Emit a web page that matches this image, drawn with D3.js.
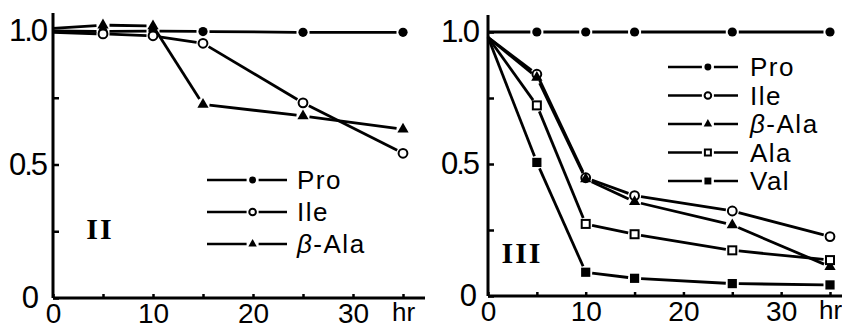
<!DOCTYPE html>
<html>
<head>
<meta charset="utf-8">
<script src="https://cdn.jsdelivr.net/npm/d3@7"></script>
<style>
body { margin: 0; background: #fff; }
svg { display: block; }
.tick text { font-family: "Liberation Sans", Arial, sans-serif; fill: #000; }
.legend text { font-family: "Liberation Sans", Arial, sans-serif; font-size: 26px; letter-spacing: 1.5px; }
.panel-name { font-family: "Liberation Serif", "Times New Roman", serif; font-weight: bold; font-size: 30px; letter-spacing: 2px; }
</style>
</head>
<body>
<svg id="chart" width="842" height="329"></svg>
<script>
// sampling times (hr)
const hours = [0, 5, 10, 15, 25, 35];
const xTicks = [0, 5, 10, 15, 20, 25, 30, 35];
const xTickLabels = { 0: "0", 10: "10", 20: "20", 30: "30", 35: "hr" };
const yTicks = [0, 0.25, 0.5, 0.75, 1];
const yTickLabels = { 0: "0", 0.5: "0.5", 1: "1.0" };

// panel II
const proII = [1.0, 0.998, 1.0, 0.998, 0.995, 0.995];
const ileII = [0.995, 0.989, 0.982, 0.954, 0.731, 0.542];
const betaAlaII = [1.01, 1.022, 1.019, 0.725, 0.682, 0.632];

// panel III
const proIII = [1.0, 1.0, 1.0, 1.0, 1.0, 1.0];
const ileIII = [0.98, 0.84, 0.448, 0.38, 0.322, 0.225];
const betaAlaIII = [0.98, 0.828, 0.443, 0.357, 0.269, 0.111];
const alaIII = [0.98, 0.722, 0.273, 0.234, 0.173, 0.136];
const valIII = [0.98, 0.506, 0.09, 0.067, 0.047, 0.042];

const panels = [
    {
        name: "II", left: 53, right: 403, bottom: 298, top: 31, xEnd: 425, yTop: 13,
        pad: 7, zeroPad: 16,
        series: [
            { label: "Pro", values: proII, mark: "dot" },
            { label: "Ile", values: ileII, mark: "ring" },
            { label: "β-Ala", values: betaAlaII, mark: "tri" }
        ],
        legend: { x: 207, y: 180, step: 32, len: 80, text: 297 },
        tag: { x: 100, y: 239 }
    },
    {
        name: "III", left: 488, right: 830, bottom: 296, top: 32, xEnd: 842, yTop: 15,
        pad: 10, zeroPad: 13,
        series: [
            { label: "Pro", values: proIII, mark: "dot" },
            { label: "Ile", values: ileIII, mark: "ring" },
            { label: "β-Ala", values: betaAlaIII, mark: "tri" },
            { label: "Ala", values: alaIII, mark: "box" },
            { label: "Val", values: valIII, mark: "square" }
        ],
        legend: { x: 668, y: 67, step: 28.5, len: 70, text: 750 },
        tag: { x: 522, y: 263 }
    }
];

const svg = d3.select("#chart");

function drawMark(g, type, x, y, s) {
    if (type === "dot") {
        g.append("circle").attr("cx", x).attr("cy", y).attr("r", 4.6 * s).attr("fill", "#000");
    } else if (type === "ring") {
        g.append("circle").attr("cx", x).attr("cy", y).attr("r", 4.4 * s)
            .attr("fill", "#fff").attr("stroke", "#000").attr("stroke-width", 2);
    } else if (type === "tri") {
        g.append("path").attr("transform", "translate(" + x + "," + y + ")")
            .attr("d", d3.symbol(d3.symbolTriangle, 55 * s * s)()).attr("fill", "#000");
    } else if (type === "box") {
        const h = 4 * s;
        g.append("rect").attr("x", x - h).attr("y", y - h).attr("width", 2 * h).attr("height", 2 * h)
            .attr("fill", "#fff").attr("stroke", "#000").attr("stroke-width", 2);
    } else if (type === "square") {
        const h = 4.6 * s;
        g.append("rect").attr("x", x - h).attr("y", y - h).attr("width", 2 * h).attr("height", 2 * h)
            .attr("fill", "#000");
    }
}

panels.forEach(p => {
    const x = d3.scaleLinear().domain([0, 35]).range([p.left, p.right]);
    const y = d3.scaleLinear().domain([0, 1]).range([p.bottom, p.top]);
    const g = svg.append("g");

    const xAxis = d3.axisBottom(x)
        .tickValues(xTicks)
        .tickSizeInner(-4).tickSizeOuter(0).tickPadding(5)
        .tickFormat(d => xTickLabels[d] || "");
    const gx = g.append("g").attr("transform", "translate(0," + p.bottom + ")").call(xAxis);
    gx.select(".domain").remove();
    gx.selectAll(".tick line").attr("stroke-width", 2.5);
    gx.selectAll(".tick text").style("font-size", d => d === 35 ? "26px" : "28px");

    const yAxis = d3.axisLeft(y)
        .tickValues(yTicks)
        .tickSizeInner(-6).tickSizeOuter(0).tickPadding(p.pad)
        .tickFormat(d => yTickLabels[d] || "");
    const gy = g.append("g").attr("transform", "translate(" + p.left + ",0)").call(yAxis);
    gy.select(".domain").remove();
    gy.selectAll(".tick line").attr("stroke-width", 2.5);
    gy.selectAll(".tick text")
        .style("font-size", "31px").style("letter-spacing", "-2px")
        .attr("x", d => d === 0 ? -p.zeroPad : -p.pad);

    // axis lines
    g.append("line").attr("x1", p.left).attr("x2", p.xEnd).attr("y1", p.bottom).attr("y2", p.bottom)
        .attr("stroke", "#000").attr("stroke-width", 3);
    g.append("line").attr("x1", p.left).attr("x2", p.left).attr("y1", p.bottom).attr("y2", p.yTop)
        .attr("stroke", "#000").attr("stroke-width", 3);

    // series: segments stop short of the marks
    const gap = 6.5;
    p.series.forEach(s => {
        const pts = hours.map((h, i) => [x(h), y(s.values[i])]);
        for (let i = 1; i < pts.length; i++) {
            const [ax, ay] = pts[i - 1], [bx, by] = pts[i];
            const len = Math.hypot(bx - ax, by - ay);
            const ux = (bx - ax) / len, uy = (by - ay) / len;
            const g0 = i - 1 === 0 ? 0 : gap;
            g.append("line")
                .attr("x1", ax + ux * g0).attr("y1", ay + uy * g0)
                .attr("x2", bx - ux * gap).attr("y2", by - uy * gap)
                .attr("stroke", "#000").attr("stroke-width", 2.8);
        }
        pts.slice(1).forEach(([px, py]) => drawMark(g, s.mark, px, py, 1));
    });

    // legend
    const lg = g.append("g").attr("class", "legend");
    p.series.forEach((s, i) => {
        const ly = p.legend.y + i * p.legend.step;
        const mid = p.legend.x + p.legend.len * 0.57;
        lg.append("line").attr("x1", p.legend.x).attr("x2", mid - 6).attr("y1", ly).attr("y2", ly)
            .attr("stroke", "#000").attr("stroke-width", 2.5);
        lg.append("line").attr("x1", mid + 6).attr("x2", p.legend.x + p.legend.len).attr("y1", ly).attr("y2", ly)
            .attr("stroke", "#000").attr("stroke-width", 2.5);
        drawMark(lg, s.mark, mid, ly, 0.75);
        const t = lg.append("text").attr("x", p.legend.text).attr("y", ly).attr("dy", "0.36em");
        if (s.label.startsWith("β")) {
            t.append("tspan").style("font-style", "italic").text("β");
            t.append("tspan").text(s.label.slice(1));
        } else {
            t.text(s.label);
        }
    });

    g.append("text").attr("class", "panel-name")
        .attr("x", p.tag.x).attr("y", p.tag.y).attr("text-anchor", "middle")
        .text(p.name);
});
</script>
</body>
</html>
